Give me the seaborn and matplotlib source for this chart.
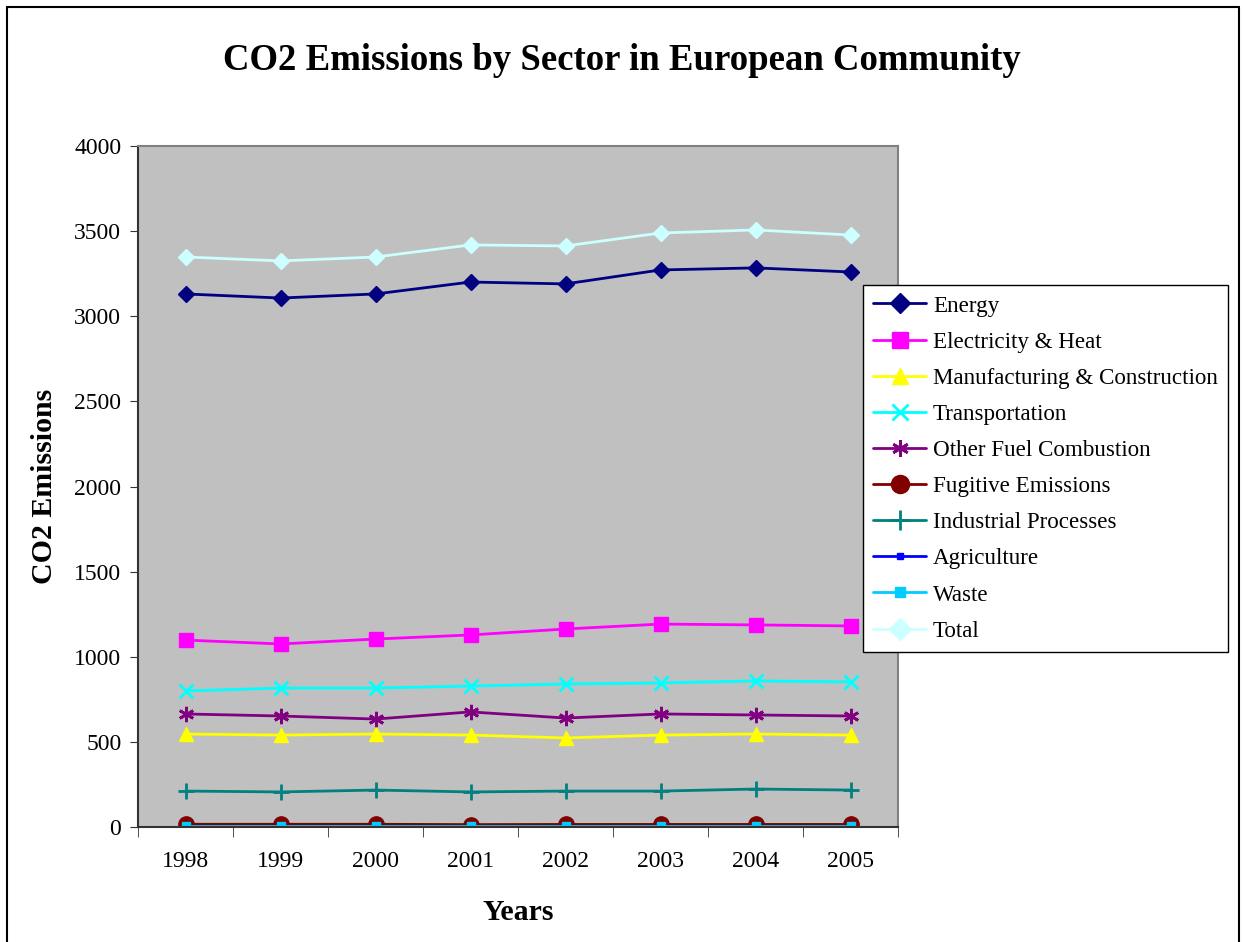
import matplotlib
matplotlib.use("Agg")
import matplotlib.pyplot as plt
import seaborn as sns
import pandas as pd
from matplotlib.lines import Line2D

years = ["1998", "1999", "2000", "2001", "2002", "2003", "2004", "2005"]
energy = [3131, 3107, 3131, 3201, 3190, 3272, 3284, 3260]
electricity = [1098, 1075, 1104, 1128, 1163, 1192, 1187, 1181]
manufacturing = [546, 540, 546, 540, 523, 540, 546, 540]
transportation = [799, 816, 816, 828, 840, 846, 858, 852]
other_fuel = [664, 652, 634, 676, 640, 664, 658, 652]
fugitive = [16, 16, 16, 14, 15, 15, 15, 15]
industrial = [211, 206, 217, 206, 211, 211, 223, 217]
agriculture = [2, 2, 2, 2, 2, 2, 2, 2]
waste = [6, 6, 6, 6, 6, 6, 6, 6]
total = [3348, 3325, 3348, 3419, 3413, 3489, 3507, 3477]

series_names = ["Energy", "Electricity & Heat", "Manufacturing & Construction",
                "Transportation", "Other Fuel Combustion", "Fugitive Emissions",
                "Industrial Processes", "Agriculture", "Waste", "Total"]
series_values = [energy, electricity, manufacturing, transportation, other_fuel,
                 fugitive, industrial, agriculture, waste, total]
colors = ["#000080", "#FF00FF", "#FFFF00", "#00FFFF", "#800080", "#800000",
          "#008080", "#0000FF", "#00CCFF", "#CCFFFF"]
markers = ["D", "s", "^", "x", (6, 2, 0), "o", "+", "s", "s", "D"]
msizes = [8, 10, 10, 10, 11, 11, 12, 4, 6, 8]
leg_msizes = [10, 12, 12, 12, 12, 13, 14, 5, 7, 11]

rows = []
for name, vals in zip(series_names, series_values):
    for i, (y, v) in enumerate(zip(years, vals)):
        rows.append({"Year": y, "idx": i, "Series": name, "Value": v})
df = pd.DataFrame(rows)

sns.set_style("white")
plt.rcParams["font.family"] = ["Liberation Serif", "DejaVu Serif"]
plt.rcParams["text.color"] = "black"
plt.rcParams["axes.labelcolor"] = "black"
plt.rcParams["xtick.color"] = "black"
plt.rcParams["ytick.color"] = "black"

def mew(m):
    return 2 if m in ("x", "+") or isinstance(m, tuple) else 1

fig = plt.figure(figsize=(12.44, 9.42), dpi=100)
ax = fig.add_axes([138/1244, 1-827/942, (898-138)/1244, (827-146)/942])
ax.set_facecolor("#C0C0C0")

for name, col, mk, ms in zip(series_names, colors, markers, msizes):
    sub = df[df["Series"] == name]
    sns.lineplot(data=sub, x="idx", y="Value", ax=ax, color=col, marker=mk,
                 markersize=ms, linewidth=2, markeredgecolor=col,
                 markeredgewidth=mew(mk), label=name, legend=False)

ax.set_xlim(-0.5, len(years) - 0.5)
ax.set_ylim(0, 4000)
ax.set_yticks(range(0, 4001, 500))
ax.set_xticks(range(len(years)))
ax.set_xticklabels(years)
ax.set_xticks([i - 0.5 for i in range(len(years) + 1)], minor=True)
ax.tick_params(axis="x", which="major", length=0, labelsize=17, pad=17)
ax.tick_params(axis="x", which="minor", length=7, color="#333333", direction="out")
ax.tick_params(axis="y", length=6, labelsize=17, direction="out", color="#333333", pad=6)
ax.xaxis.set_ticks_position("bottom")
ax.yaxis.set_ticks_position("left")
for sp in ["top", "right"]:
    ax.spines[sp].set_color("#808080")
    ax.spines[sp].set_linewidth(1.5)
for sp in ["left", "bottom"]:
    ax.spines[sp].set_color("#333333")
    ax.spines[sp].set_linewidth(1.5)
ax.grid(False)

ax.set_xlabel("Years", fontsize=21.5, fontweight="bold", labelpad=20)
ax.set_ylabel("CO2 Emissions", fontsize=21.5, fontweight="bold", labelpad=12)

fig.text(0.5, 1 - 61/942, "CO2 Emissions by Sector in European Community",
         ha="center", va="center", fontsize=26.5, fontweight="bold")

handles = [Line2D([0], [0], color=c, marker=m, markersize=s, linewidth=2,
                  markeredgecolor=c, markeredgewidth=mew(m))
           for c, m, s in zip(colors, markers, leg_msizes)]
leg = fig.legend(handles, series_names, loc="upper left",
                 bbox_to_anchor=(863/1244, 1 - 285/942), fontsize=16.6,
                 frameon=True, fancybox=False, edgecolor="black",
                 framealpha=1, handlelength=2.3, handletextpad=0.28,
                 labelspacing=0.65, borderpad=0.45, borderaxespad=0)
leg.get_frame().set_linewidth(1)

lw = 1.5
fig.add_artist(Line2D([7/1244, 7/1244], [0, 1 - 7/942], color="black", lw=lw, transform=fig.transFigure))
fig.add_artist(Line2D([7/1244, 1239/1244], [1 - 7/942, 1 - 7/942], color="black", lw=lw, transform=fig.transFigure))
fig.add_artist(Line2D([1239/1244, 1239/1244], [0, 1 - 7/942], color="black", lw=lw, transform=fig.transFigure))

fig.savefig("out.png", dpi=100)
